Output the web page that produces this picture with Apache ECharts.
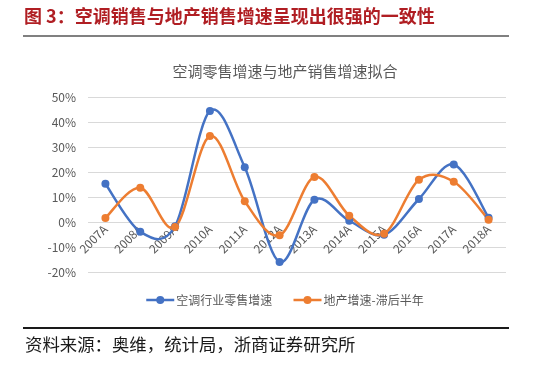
<!DOCTYPE html>
<html>
<head>
<meta charset="utf-8">
<script src="https://cdn.jsdelivr.net/npm/echarts@6/dist/echarts.min.js"></script>
<style>
html,body{margin:0;padding:0;background:#fff;}
#c{width:550px;height:366px;}
</style>
</head>
<body>
<div id="c"></div>
<script>
var categories = ['2007A','2008A','2009A','2010A','2011A','2012A','2013A','2014A','2015A','2016A','2017A','2018A'];
var acRetailGrowth = [15.3, -3.9, -1.7, 44.4, 21.9, -16.0, 8.9, 0.5, -5.1, 9.2, 23.0, 1.7];
var propertyGrowthLag = [1.6, 13.7, -2.0, 34.4, 8.3, -5.3, 18.0, 2.5, -4.7, 16.9, 16.1, 0.9];
var seriesNames = ['空调行业零售增速', '地产增速-滞后半年'];
var chartTitle = '空调零售增速与地产销售增速拟合';
var headerText = '图 3：空调销售与地产销售增速呈现出很强的一致性';
var sourceText = '资料来源：奥维，统计局，浙商证券研究所';

var BLUE = '#4472C4', ORANGE = '#ED7D31';
var grey = '#595959';

// Catmull-Rom smoothed segments (Excel-style), positioned via the axes' own coord()
function smoothRenderer(values, color) {
  return function (params, api) {
    var i = params.dataIndex, n = values.length;
    if (i >= n - 1) return null;
    var P = function (k) { k = Math.max(0, Math.min(n - 1, k)); return api.coord([k, values[k]]); };
    var p0 = P(i - 1), p1 = P(i), p2 = P(i + 1), p3 = P(i + 2);
    return {
      type: 'bezierCurve',
      shape: {
        x1: p1[0], y1: p1[1], x2: p2[0], y2: p2[1],
        cpx1: p1[0] + (p2[0] - p0[0]) / 6, cpy1: p1[1] + (p2[1] - p0[1]) / 6,
        cpx2: p2[0] - (p3[0] - p1[0]) / 6, cpy2: p2[1] - (p3[1] - p1[1]) / 6
      },
      style: {stroke: color, lineWidth: 2.5, fill: null, lineCap: 'round'}
    };
  };
}
function toPairs(values) { return values.map(function (v, i) { return [i, v]; }); }

var chart = echarts.init(document.getElementById('c'), null, {renderer: 'canvas'});
chart.setOption({
  backgroundColor: '#fff',
  animation: false,
  textStyle: {fontFamily: '"Noto Sans CJK SC", "Noto Sans", sans-serif'},
  title: {
    text: chartTitle,
    left: 280, top: 59, textAlign: 'center',
    textStyle: {fontSize: 15, fontWeight: 'normal', color: grey, fontFamily: '"Noto Sans CJK SC", sans-serif'}
  },
  legend: {
    top: 289, left: 140,
    itemWidth: 28, itemHeight: 10, itemGap: 20,
    textStyle: {fontSize: 12, color: grey, padding: [0,0,0,-3]},
    data: [
      {name: seriesNames[0], lineStyle: {color: BLUE, width: 2.5, opacity: 1}},
      {name: seriesNames[1], lineStyle: {color: ORANGE, width: 2.5, opacity: 1}}
    ]
  },
  grid: {left: 88, top: 97, width: 418, height: 175, containLabel: false},
  xAxis: {
    type: 'category',
    data: categories,
    boundaryGap: true,
    offset: -50,
    axisLine: {show: false, onZero: false},
    axisTick: {show: false},
    axisLabel: {rotate: 45, color: grey, fontSize: 12, margin: 5, interval: 0}
  },
  yAxis: {
    type: 'value',
    min: -20, max: 50, interval: 10,
    axisLine: {show: false},
    axisTick: {show: false},
    axisLabel: {formatter: '{value}%', color: grey, fontSize: 12, margin: 12},
    splitLine: {lineStyle: {color: '#d9d9d9', width: 1}}
  },
  series: [
    {type: 'custom', data: toPairs(acRetailGrowth), encode: {x: 0, y: 1}, renderItem: smoothRenderer(acRetailGrowth, BLUE), z: 2, silent: true},
    {type: 'custom', data: toPairs(propertyGrowthLag), encode: {x: 0, y: 1}, renderItem: smoothRenderer(propertyGrowthLag, ORANGE), z: 2, silent: true},
    {
      name: seriesNames[0], type: 'line', data: acRetailGrowth,
      symbol: 'circle', symbolSize: 8, z: 3,
      lineStyle: {color: BLUE, width: 2.5, opacity: 0},
      itemStyle: {color: BLUE}
    },
    {
      name: seriesNames[1], type: 'line', data: propertyGrowthLag,
      symbol: 'circle', symbolSize: 8, z: 3,
      lineStyle: {color: ORANGE, width: 2.5, opacity: 0},
      itemStyle: {color: ORANGE}
    }
  ],
  graphic: [
    {type: 'text', left: 24, top: 7, style: {text: headerText, fill: '#b01e23', font: 'bold 18px "Noto Sans CJK SC", sans-serif'}},
    {type: 'rect', shape: {x: 23, y: 35, width: 486, height: 2}, style: {fill: '#808080'}},
    {type: 'rect', shape: {x: 23, y: 327, width: 486, height: 2}, style: {fill: '#1a1a1a'}},
    {type: 'text', left: 25, top: 336, style: {text: sourceText, fill: '#1a1a1a', font: '17.4px "Noto Sans CJK SC", sans-serif'}}
  ]
});
</script>
</body>
</html>
